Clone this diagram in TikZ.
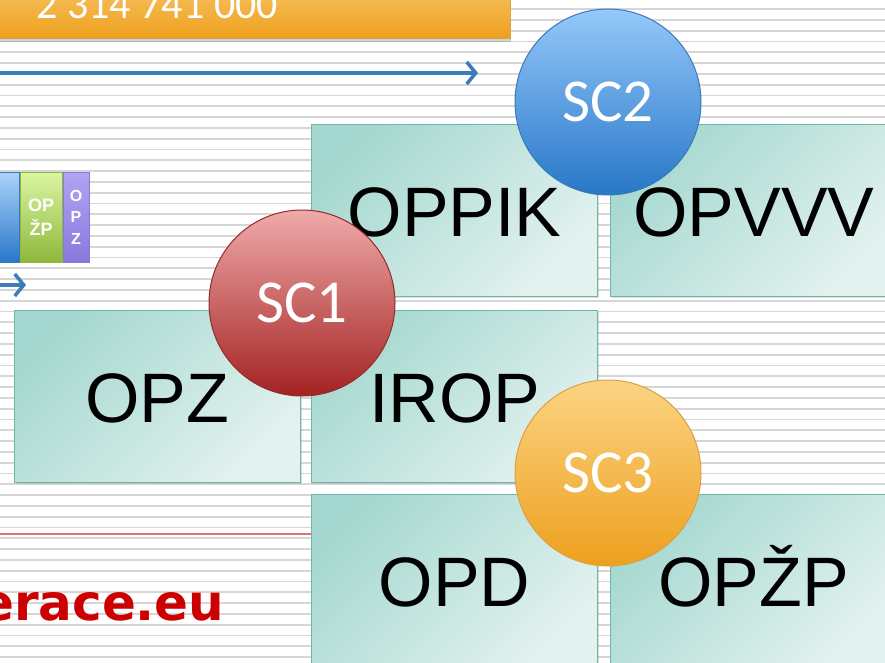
\documentclass[tikz,border=0pt]{standalone}
\usepackage{fontspec}
\setmainfont{Liberation Sans}
\newfontfamily\calibri{Carlito}
\newfontfamily\verdana{DejaVu Sans}
\usetikzlibrary{arrows.meta,shadows,positioning}
\definecolor{tealtop}{HTML}{A5D8D0}
\definecolor{tealbot}{HTML}{E3F2EF}
\definecolor{tealline}{HTML}{6DB6AA}
\definecolor{redtop}{HTML}{EFAAAA}
\definecolor{redbot}{HTML}{A42222}
\definecolor{redline}{HTML}{962A2A}
\definecolor{bluetop}{HTML}{94C8F9}
\definecolor{bluebot}{HTML}{2877C8}
\definecolor{blueline}{HTML}{3A79BA}
\definecolor{orangetop}{HTML}{FBD383}
\definecolor{orangebot}{HTML}{EEA01E}
\definecolor{orangeline}{HTML}{DBA043}
\definecolor{arrowblue}{HTML}{3C7DB9}
\definecolor{greentop}{HTML}{DAF5A2}
\definecolor{greenbot}{HTML}{8DB83B}
\definecolor{violettop}{HTML}{B0A4F4}
\definecolor{violetbot}{HTML}{8A78DE}
\definecolor{webred}{HTML}{CC0000}
\tikzset{
opbox/.style={
	draw=tealline, line width=1.2pt, top color=tealtop, bottom color=tealbot,
	shading angle=45, minimum width=286pt, minimum height=172pt, inner sep=0pt,
	text height=51pt, text depth=0pt, anchor=north west,
	font=\fontsize{70}{70}\selectfont,
	drop shadow={opacity=0.25, shadow xshift=1.5pt, shadow yshift=-1.5pt}},
scball/.style={
	circle, line width=1pt, minimum size=186pt, inner sep=0pt, text=white,
	text height=39pt, text depth=0pt, font=\calibri\fontsize{61}{61}\selectfont},
minibox/.style={
	draw, line width=0.8pt, minimum height=90pt, inner sep=0pt, text=white,
	align=center, font=\bfseries\fontsize{18}{24}\selectfont},
timeline/.style={
	draw=arrowblue, line width=3.5pt,
	-{Straight Barb[length=9pt, width=22pt]}}
}

\begin{document}
\begin{tikzpicture}[x=1pt, y=-1pt]
	\clip (0,0) rectangle (885,663);
	\fill[white] (0,0) rectangle (885,663);
	\foreach \k in {0,...,62}
		\draw[gray!32, line width=1.7pt] (0,{\k*10.8-1.7}) -- (885,{\k*10.8-1.7});

	\node[anchor=south east, minimum width=530pt, minimum height=80pt,
		draw=orangeline, top color=orangetop, bottom color=orangebot,
		drop shadow={opacity=0.35, shadow xshift=1pt, shadow yshift=-4pt}]
		(budget) at (510,38) {};
	\node[anchor=base west, text=white, font=\calibri\fontsize{42}{42}\selectfont]
		(sum) at (33,19) {2 314 741 000};

	\coordinate (t1s) at (-10,73);
	\coordinate (t1e) at (478,73);
	\draw[timeline] (t1s) -- (t1e);
	\coordinate (t2s) at (-10,285);
	\coordinate (t2e) at (26,285);
	\draw[timeline] (t2s) -- (t2e);

	\node[minibox, anchor=north west, minimum width=49pt, draw=blueline,
		top color=bluetop!80, bottom color=bluebot] (mini1) at (-30,172) {};
	\node[minibox, minimum width=42pt, draw=greenbot, top color=greentop,
		bottom color=greenbot, right=0pt of mini1] (mini2) {OP\\ŽP};
	\node[minibox, minimum width=26pt, draw=violetbot, top color=violettop,
		bottom color=violetbot, font=\bfseries\fontsize{16}{21.5}\selectfont,
		right=0pt of mini2] (mini3) {O\\P\\Z};

	\coordinate (rl1) at (-10,534);
	\coordinate (rl2) at (311,534);
	\draw[draw=webred!55, line width=1.5pt] (rl1) -- (rl2);
	\node[anchor=base east, text=webred, font=\verdana\bfseries\fontsize{50}{50}\selectfont]
		(web) at (228,620) {erace.eu};

	\node[opbox] (oppik) at (311,124) {OPPIK};
	\node[opbox, right=12pt of oppik] (opvvv) {OPVVV};
	\node[opbox] (irop) at (311,310) {IROP};
	\node[opbox, left=10pt of irop] (opz) {OPZ};
	\node[opbox] (opd) at (311,494) {OPD};
	\node[opbox, right=12pt of opd] (opzp) {OPŽP};

	\node[scball, draw=redline, top color=redtop, bottom color=redbot]
		(sc1) at (302,303) {SC1};
	\node[scball, draw=blueline, top color=bluetop, bottom color=bluebot]
		(sc2) at (608,102) {SC2};
	\node[scball, draw=orangeline, top color=orangetop, bottom color=orangebot]
		(sc3) at (608,473) {SC3};
\end{tikzpicture}
\end{document}
